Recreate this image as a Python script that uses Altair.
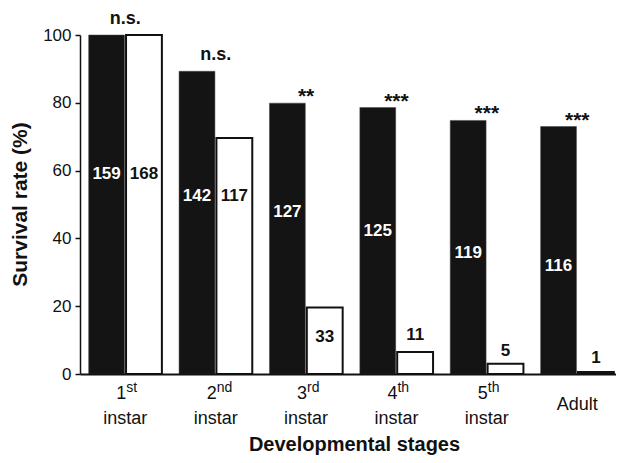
import altair as alt
import pandas as pd

# ---- data ----
stages = ["1st instar", "2nd instar", "3rd instar", "4th instar", "5th instar", "Adult"]
tick_main = ["1", "2", "3", "4", "5", "Adult"]
tick_sup = ["st", "nd", "rd", "th", "th", ""]
tick_second = ["instar", "instar", "instar", "instar", "instar", ""]

black_rate = [100, 89.3, 79.9, 78.6, 74.8, 73.0]
white_rate = [100, 69.6, 19.6, 6.5, 3.0, 0.6]
black_n = [159, 142, 127, 125, 119, 116]
white_n = [168, 117, 33, 11, 5, 1]
black_label_at = [59.1, 52.4, 47.9, 42.2, 35.7, 31.9]
white_label_at = [59.1, 52.4, 10.9, 11.4, 6.8, 4.7]
significance = ["n.s.", "n.s.", "**", "***", "***", "***"]

groups = ["filled", "open"]

df = pd.DataFrame({
    "stage": stages * 2,
    "group": [groups[0]] * len(stages) + [groups[1]] * len(stages),
    "rate": black_rate + white_rate,
    "n": black_n + white_n,
    "label_at": black_label_at + white_label_at,
})
sig_df = pd.DataFrame({"stage": stages, "top": black_rate, "sig": significance})
tick_df = pd.DataFrame({"stage": stages, "main": tick_main, "sup": tick_sup, "second": tick_second})

W, H = 536, 339
INK = "#111111"
FONT = "Liberation Sans"

x_axis = alt.Axis(labels=False, ticks=False, domainColor=INK, domainWidth=2, zindex=1,
                  title="Developmental stages", titleFontSize=20, titleFontWeight="bold",
                  titleColor=INK, titleX=274, titleY=76, titleBaseline="alphabetic",
                  titleFont=FONT)
x_enc = alt.X("stage:N", sort=stages,
              scale=alt.Scale(domain=stages, paddingInner=0.19, paddingOuter=0.06, align=0.8),
              axis=x_axis)
xoff = alt.XOffset("group:N", scale=alt.Scale(domain=groups, paddingInner=0.04, paddingOuter=0))

y_axis = alt.Axis(values=[0, 20, 40, 60, 80, 100], tickSize=5, tickWidth=1.5, tickColor=INK,
                  domainColor=INK, domainWidth=1.5, grid=False, zindex=1,
                  labelFontSize=17, labelColor=INK, labelPadding=4, labelFont=FONT,
                  title="Survival rate (%)", titleFontSize=21, titleFontWeight="bold",
                  titleColor=INK, titleX=-54, titleY=169, titleBaseline="alphabetic",
                  titleFont=FONT)


def y_of(field):
    return alt.Y(f"{field}:Q", scale=alt.Scale(domain=[0, 100], nice=False, zero=True), axis=y_axis)


base = alt.Chart(df)

bars_filled = base.transform_filter("datum.group == 'filled'").mark_bar(
    fill="#141414", stroke="#444444", strokeWidth=0.5
).encode(x=x_enc, xOffset=xoff, y=y_of("rate"))

bars_open = base.transform_filter("datum.group == 'open'").mark_bar(
    fill="white", stroke=INK, strokeWidth=2
).encode(x=x_enc, xOffset=xoff, y=y_of("rate"))

counts = base.mark_text(fontSize=17, fontWeight="bold", baseline="middle", font=FONT).encode(
    x=x_enc, xOffset=xoff, y=y_of("label_at"), text="n:Q",
    color=alt.Color("group:N", scale=alt.Scale(domain=groups, range=["white", INK]), legend=None),
)

sig_base = alt.Chart(sig_df)
sig_ns = sig_base.transform_filter("datum.sig == 'n.s.'").mark_text(
    fontSize=18, fontWeight="bold", baseline="alphabetic", dy=-11, color=INK, font=FONT
).encode(x=x_enc, y=y_of("top"), text="sig:N")
sig_star = sig_base.transform_filter("datum.sig != 'n.s.'").mark_text(
    fontSize=21, fontWeight="bold", baseline="alphabetic", dy=0, color=INK, font=FONT
).encode(x=x_enc, y=y_of("top"), text="sig:N")

tick_base = alt.Chart(tick_df)
tick_digits = tick_base.transform_filter("datum.sup != ''").mark_text(
    fontSize=18, align="right", baseline="alphabetic", dx=1, color=INK, font=FONT
).encode(x=x_enc, y=alt.value(H + 25), text="main:N")
tick_sups = tick_base.transform_filter("datum.sup != ''").mark_text(
    fontSize=14, align="left", baseline="alphabetic", dx=1, color=INK, font=FONT
).encode(x=x_enc, y=alt.value(H + 18), text="sup:N")
tick_lines = tick_base.transform_filter("datum.sup != ''").mark_text(
    fontSize=18, align="center", baseline="alphabetic", color=INK, font=FONT
).encode(x=x_enc, y=alt.value(H + 50), text="second:N")
tick_single = tick_base.transform_filter("datum.sup == ''").mark_text(
    fontSize=18, align="center", baseline="alphabetic", color=INK, font=FONT
).encode(x=x_enc, y=alt.value(H + 36), text="main:N")

chart = alt.layer(
    bars_filled, bars_open, counts, sig_ns, sig_star,
    tick_digits, tick_sups, tick_lines, tick_single,
).properties(
    width=W, height=H,
    autosize=alt.AutoSizeParams(type="none"),
    padding={"left": 72, "top": 27, "right": 0, "bottom": 81},
).configure(font=FONT, background="white").configure_view(stroke=None)

chart.save("out.html", embed_options={"renderer": "svg", "actions": False})
